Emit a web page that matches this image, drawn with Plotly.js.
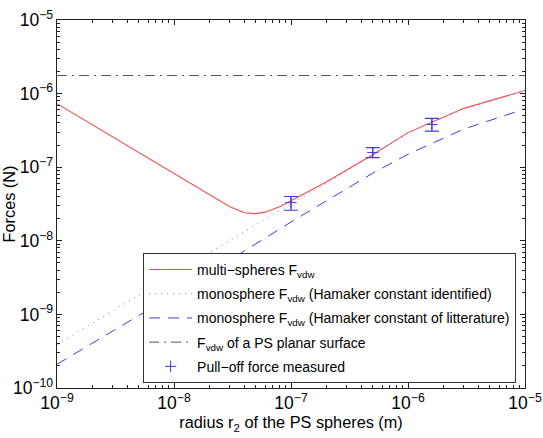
<!DOCTYPE html>
<html>
<head>
<meta charset="utf-8">
<script src="https://cdn.plot.ly/plotly-3.0.1.min.js"></script>
<style>
  html, body { margin: 0; padding: 0; background: #fff; }
  #chart { width: 543px; height: 438px; }
</style>
</head>
<body>
<div id="chart"></div>
<script>
// Sphere radius (m) at which the multi-sphere force was evaluated
const radiusMulti = [1e-9, 1e-8, 2e-8, 3e-8, 4e-8, 5e-8, 6e-8, 7e-8, 8e-8, 1e-7, 2e-7, 5e-7, 1e-6, 3e-6, 1e-5];
const forceMulti  = [7.3e-7, 8.1e-8, 4.2e-8, 2.9e-8, 2.4e-8, 2.34e-8, 2.45e-8, 2.7e-8, 2.9e-8, 3.5e-8, 6.3e-8, 1.48e-7, 2.95e-7, 6.3e-7, 1.1e-6];

// Single-sphere model evaluated on a coarser radius grid
const radiusMono      = [1e-9, 1e-8, 1e-7, 2e-7, 5e-7, 1e-6, 3e-6, 1e-5];
const forceMonoIdent  = [3.9e-10, 3.5e-9, 3.2e-8, 6.0e-8, 1.45e-7, 2.9e-7, 6.2e-7, 1.08e-6];
const forceMonoLit    = [2.1e-10, 1.86e-9, 1.8e-8, 3.5e-8, 8.3e-8, 1.5e-7, 3.3e-7, 6.2e-7];

// Planar surface (independent of radius)
const radiusPlane = [1e-9, 1e-5];
const forcePlane  = [1.76e-6, 1.76e-6];

// Measured pull-off forces with min / max
const radiusMeas = [1e-7, 5e-7, 1.6e-6];
const forceMeas  = [3.3e-8, 1.58e-7, 3.8e-7];
const forceMeasHigh = [4.0e-8, 1.85e-7, 4.6e-7];
const forceMeasLow  = [2.6e-8, 1.35e-7, 3.1e-7];

const errPlus  = forceMeas.map((v, i) => forceMeasHigh[i] - v);
const errMinus = forceMeas.map((v, i) => v - forceMeasLow[i]);

const red = 'rgb(236,80,80)';
const blue = 'rgb(60,60,225)';
const font = 'Liberation Sans, Arial, Helvetica, sans-serif';

const traces = [
  {
    x: radiusMono, y: forceMonoIdent, mode: 'lines', type: 'scatter',
    name: 'monosphere F<sub>vdw</sub> (Hamaker constant identified)',
    line: { color: 'rgb(120,120,215)', width: 1, dash: '1px,5px' },
    legendrank: 2, legendgroup: 'b'
  },
  {
    x: radiusMono, y: forceMonoLit, mode: 'lines', type: 'scatter',
    name: 'monosphere F<sub>vdw</sub> (Hamaker constant of litterature)',
    line: { color: blue, width: 1, dash: '11px,8px' },
    legendrank: 3, legendgroup: 'c'
  },
  {
    x: radiusPlane, y: forcePlane, mode: 'lines', type: 'scatter',
    name: 'F<sub>vdw</sub> of a PS planar surface',
    line: { color: 'rgb(85,85,85)', width: 1, dash: '10px,5px,2px,5px' },
    legendrank: 4, legendgroup: 'd'
  },
  {
    x: radiusMulti, y: forceMulti, mode: 'lines', type: 'scatter',
    name: 'multi−spheres F<sub>vdw</sub>',
    line: { color: red, width: 1.1 },
    legendrank: 1, legendgroup: 'a'
  },
  {
    x: radiusMeas, y: forceMeas, mode: 'markers', type: 'scatter',
    name: 'Pull−off force measured',
    marker: { symbol: 'cross-thin', size: 8, line: { color: blue, width: 1 }, color: blue },
    error_y: { type: 'data', symmetric: false, array: errPlus, arrayminus: errMinus,
               color: blue, thickness: 1.2, width: 7 },
    legendrank: 5, legendgroup: 'e'
  }
];

const axisCommon = {
  type: 'log',
  showline: true, linecolor: '#222', linewidth: 1, mirror: 'ticks',
  ticks: 'inside', ticklen: 5, tickcolor: '#222', tickwidth: 1,
  minor: { ticks: 'inside', ticklen: 3, tickcolor: '#222', tickwidth: 1, dtick: 'D1' },
  showgrid: false, zeroline: false,
  exponentformat: 'power', dtick: 1,
  tickfont: { family: font, size: 14, color: '#000' }
};

const layout = {
  width: 543, height: 438,
  margin: { l: 57, r: 18, t: 20, b: 50 },
  paper_bgcolor: '#fff', plot_bgcolor: '#fff',
  font: { family: font, size: 14, color: '#000' },
  xaxis: Object.assign({}, axisCommon, {
    range: [-9, -5],
    title: { text: 'radius r<sub>2</sub> of the PS spheres (m)', standoff: 2,
             font: { size: 16.3 } }
  }),
  yaxis: Object.assign({}, axisCommon, {
    range: [-10, -5], automargin: false,
    title: { text: 'Forces (N)', standoff: 2, font: { size: 16.3 } }
  }),
  showlegend: true,
  legend: {
    x: 0.184, y: 0.367, xanchor: 'left', yanchor: 'top',
    bgcolor: '#fff', bordercolor: '#333', borderwidth: 1,
    font: { size: 14, color: '#000' }, itemwidth: 43, tracegroupgap: 3
  }
};

Plotly.newPlot('chart', traces, layout, { displayModeBar: false, staticPlot: true });
</script>
</body>
</html>
